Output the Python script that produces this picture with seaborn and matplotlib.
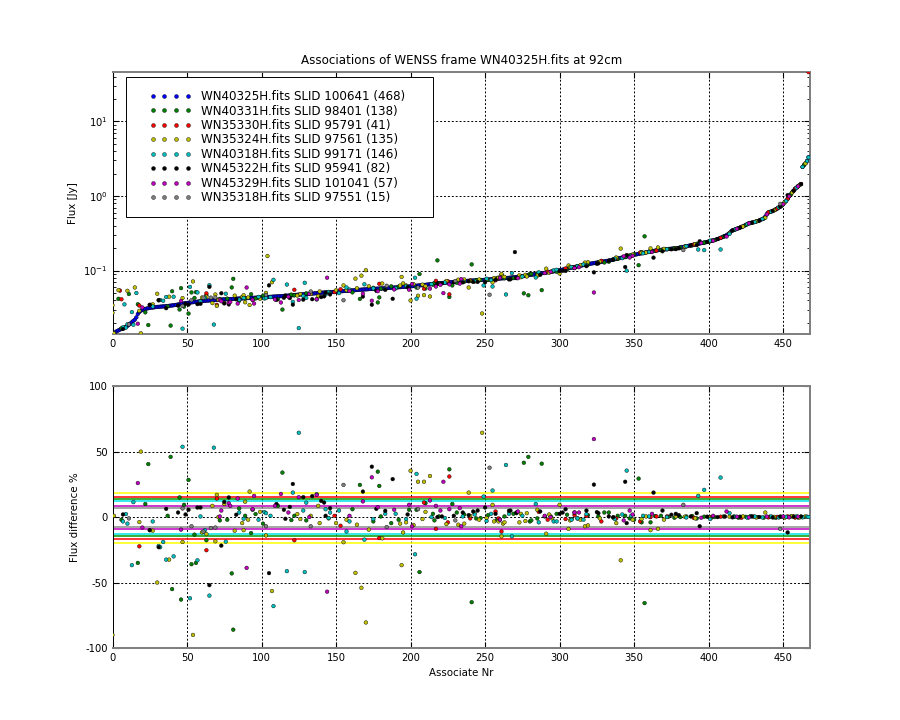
import numpy as np
import pandas as pd
import matplotlib
matplotlib.use("Agg")
import matplotlib.pyplot as plt
from matplotlib.lines import Line2D
from matplotlib.legend_handler import HandlerLine2D
import seaborn as sns

# legend names, one per frame
fields = ["WN40325H.fits SLID 100641 (468)", "WN40331H.fits SLID 98401 (138)",
          "WN35330H.fits SLID 95791 (41)", "WN35324H.fits SLID 97561 (135)",
          "WN40318H.fits SLID 99171 (146)", "WN45322H.fits SLID 95941 (82)",
          "WN45329H.fits SLID 101041 (57)", "WN35318H.fits SLID 97551 (15)"]

# flux of the reference frame, sorted (index = associate nr)
ref_flux = [
    0.0143, 0.0146, 0.0150, 0.0155, 0.0158, 0.0162, 0.0165, 0.0168, 0.0172, 0.0176,
    0.0181, 0.0188, 0.0195, 0.0203, 0.0212, 0.0220, 0.0236, 0.0262, 0.0278, 0.0289,
    0.0297, 0.0302, 0.0306, 0.0310, 0.0313, 0.0316, 0.0318, 0.0320, 0.0322, 0.0324,
    0.0326, 0.0327, 0.0328, 0.0330, 0.0331, 0.0332, 0.0334, 0.0335, 0.0337, 0.0339,
    0.0341, 0.0343, 0.0346, 0.0348, 0.0351, 0.0354, 0.0357, 0.0360, 0.0363, 0.0366,
    0.0368, 0.0371, 0.0373, 0.0375, 0.0377, 0.0379, 0.0381, 0.0383, 0.0385, 0.0387,
    0.0389, 0.0391, 0.0393, 0.0395, 0.0396, 0.0398, 0.0400, 0.0401, 0.0402, 0.0403,
    0.0405, 0.0406, 0.0407, 0.0408, 0.0410, 0.0411, 0.0412, 0.0413, 0.0414, 0.0415,
    0.0416, 0.0417, 0.0418, 0.0420, 0.0421, 0.0422, 0.0423, 0.0424, 0.0425, 0.0426,
    0.0427, 0.0428, 0.0429, 0.0430, 0.0431, 0.0432, 0.0433, 0.0434, 0.0435, 0.0436,
    0.0437, 0.0439, 0.0440, 0.0441, 0.0443, 0.0444, 0.0445, 0.0446, 0.0448, 0.0449,
    0.0450, 0.0452, 0.0453, 0.0454, 0.0455, 0.0457, 0.0458, 0.0460, 0.0462, 0.0464,
    0.0466, 0.0468, 0.0470, 0.0472, 0.0474, 0.0476, 0.0478, 0.0480, 0.0481, 0.0483,
    0.0484, 0.0486, 0.0488, 0.0490, 0.0492, 0.0494, 0.0496, 0.0498, 0.0500, 0.0502,
    0.0504, 0.0506, 0.0508, 0.0510, 0.0511, 0.0513, 0.0514, 0.0516, 0.0518, 0.0519,
    0.0521, 0.0523, 0.0525, 0.0527, 0.0529, 0.0531, 0.0533, 0.0535, 0.0537, 0.0539,
    0.0541, 0.0543, 0.0545, 0.0547, 0.0549, 0.0551, 0.0553, 0.0555, 0.0557, 0.0559,
    0.0561, 0.0562, 0.0564, 0.0566, 0.0567, 0.0569, 0.0570, 0.0572, 0.0573, 0.0574,
    0.0575, 0.0577, 0.0578, 0.0580, 0.0582, 0.0584, 0.0586, 0.0588, 0.0590, 0.0592,
    0.0594, 0.0596, 0.0598, 0.0600, 0.0602, 0.0604, 0.0606, 0.0608, 0.0610, 0.0612,
    0.0615, 0.0618, 0.0621, 0.0624, 0.0627, 0.0630, 0.0633, 0.0636, 0.0639, 0.0642,
    0.0645, 0.0648, 0.0652, 0.0656, 0.0660, 0.0663, 0.0666, 0.0669, 0.0672, 0.0675,
    0.0678, 0.0681, 0.0684, 0.0687, 0.0690, 0.0693, 0.0696, 0.0699, 0.0702, 0.0705,
    0.0708, 0.0711, 0.0714, 0.0717, 0.0719, 0.0721, 0.0724, 0.0726, 0.0728, 0.0730,
    0.0732, 0.0734, 0.0736, 0.0738, 0.0740, 0.0742, 0.0744, 0.0746, 0.0748, 0.0750,
    0.0753, 0.0756, 0.0759, 0.0762, 0.0765, 0.0768, 0.0771, 0.0774, 0.0777, 0.0780,
    0.0783, 0.0786, 0.0789, 0.0792, 0.0795, 0.0798, 0.0801, 0.0804, 0.0808, 0.0812,
    0.0816, 0.0821, 0.0826, 0.0831, 0.0836, 0.0841, 0.0847, 0.0853, 0.0859, 0.0865,
    0.0872, 0.0879, 0.0886, 0.0893, 0.0900, 0.0906, 0.0912, 0.0918, 0.0924, 0.0929,
    0.0935, 0.0942, 0.0949, 0.0956, 0.0963, 0.0970, 0.0977, 0.0984, 0.0992, 0.1000,
    0.1010, 0.1020, 0.1030, 0.1041, 0.1052, 0.1063, 0.1074, 0.1085, 0.1096, 0.1107,
    0.1118, 0.1129, 0.1140, 0.1151, 0.1162, 0.1173, 0.1184, 0.1195, 0.1206, 0.1218,
    0.1230, 0.1240, 0.1250, 0.1260, 0.1270, 0.1280, 0.1290, 0.1300, 0.1310, 0.1320,
    0.1330, 0.1340, 0.1350, 0.1362, 0.1375, 0.1390, 0.1405, 0.1420, 0.1435, 0.1450,
    0.1466, 0.1482, 0.1498, 0.1514, 0.1530, 0.1546, 0.1562, 0.1578, 0.1594, 0.1610,
    0.1626, 0.1642, 0.1658, 0.1674, 0.1690, 0.1706, 0.1722, 0.1738, 0.1754, 0.1770,
    0.1786, 0.1802, 0.1818, 0.1834, 0.1850, 0.1866, 0.1878, 0.1890, 0.1900, 0.1910,
    0.1920, 0.1930, 0.1940, 0.1950, 0.1958, 0.1966, 0.1974, 0.1982, 0.1990, 0.2000,
    0.2020, 0.2040, 0.2060, 0.2080, 0.2100, 0.2120, 0.2140, 0.2160, 0.2180, 0.2200,
    0.2222, 0.2244, 0.2266, 0.2288, 0.2310, 0.2332, 0.2354, 0.2376, 0.2398, 0.2420,
    0.2450, 0.2480, 0.2510, 0.2540, 0.2570, 0.2610, 0.2650, 0.2700, 0.2750, 0.2800,
    0.2860, 0.2920, 0.2990, 0.3080, 0.3200, 0.3350, 0.3450, 0.3520, 0.3580, 0.3640,
    0.3700, 0.3770, 0.3840, 0.3920, 0.4000, 0.4100, 0.4200, 0.4300, 0.4350, 0.4400,
    0.4450, 0.4500, 0.4560, 0.4620, 0.4700, 0.4800, 0.4900, 0.5000, 0.5300, 0.5700,
    0.6000, 0.6120, 0.6200, 0.6300, 0.6450, 0.6600, 0.6800, 0.7000, 0.7200, 0.7450,
    0.7800, 0.8200, 0.8600, 0.9200, 0.9900, 1.0500, 1.1200, 1.1800, 1.2500, 1.3000,
    1.3500, 1.4000, 1.4500, 2.4500, 2.6000, 2.7500, 2.9500, 3.3000,
]

# other frames: associate nr and flux difference % (ref - other) / ref
g_nr = [4, 6, 11, 17, 22, 24, 37, 39, 40, 45, 46, 48, 51, 53, 55, 56, 63, 72, 77, 80,
        81, 85, 89, 93, 94, 96, 101, 111, 114, 120, 122, 130, 161, 166, 175, 178, 179, 180, 187, 192,
        199, 204, 206, 210, 215, 216, 218, 219, 226, 228, 231, 236, 241, 244, 247, 252, 258, 263, 269, 271,
        276, 279, 280, 281, 285, 288, 290, 294, 298, 305, 308, 312, 319, 326, 330, 333, 336, 339, 344, 347,
        350, 353, 355, 357, 361, 364, 368, 373, 377, 381, 385, 389, 392, 397, 402, 404, 410, 417, 420, 425,
        428, 433, 437, 441, 445, 449, 455, 460, 464]
g_diff = [-165, -2, -158, -35, 10, 40.5, 1, 46, -55, 15, -63, 9.4, 28.4, -36, -13.4, -35, -17.7, -2.5, -2, -43,
          -86, 6.6, 1, -12.2, 5.6, 2.3, -5, 8.6, 34, -2.3, 1, -2.5, 6, 24.6, -3.3, 34.7, 23.8, 0.5, -4.6, -2,
          5.6, 5.6, -42, 10.6, 2.5, -2.5, -104, 0.5, 36.5, 10, 3.5, 2, -65, -1, -0.7, 1.5, -2, 0.5, 2.5, 3,
          41.5, 46, -3.3, -2.5, -1, 40.8, 0.5, 0.5, 2.5, 1.8, -1.5, -1, 1.5, 0.5, 3.5, 3.5, -0.5, 1, 1, -1,
          -2, 29.4, -4, -65.7, -4, 0.8, 1, 0.3, -0.5, 0, 0.5, 0.8, -1, 0.3, -0.3, 0, 0.5, 0.5, -0.5, 0.2,
          0.7, 0, -0.4, 0.3, -0.6, 0.2, 0.4, -0.3, 0.1]

r_nr = [5, 6, 18, 25, 63, 70, 122, 149, 153, 179, 209, 217, 225, 226, 240, 257, 259, 261, 286, 292,
        304, 310, 318, 328, 338, 354, 361, 365, 372, 390, 401, 408, 422, 430, 440, 446, 453, 457, 458, 462,
        467]
r_diff = [-233, -150, -22.3, -10, -25.3, 14.2, -17.7, 1, -6.6, -16, 11.1, -9, -4, 31, -1, 4.3, -1, -11, 4, -2,
          -1.5, 1.5, 0.8, -3.3, -1, -3.3, 0, 0.5, 0.5, -0.6, 0, 0.3, -0.5, 0.4, -0.2, 0.2, 0.5, 0.5, -0.4, 0.2,
          -1290]

y_nr = [0, 0, 1, 4, 10, 15, 18, 19, 27, 30, 38, 47, 54, 60, 63, 67, 69, 70, 71, 75,
        82, 87, 88, 89, 91, 92, 99, 103, 104, 107, 124, 126, 133, 138, 139, 145, 150, 155, 157, 163,
        164, 167, 170, 172, 181, 193, 194, 195, 197, 200, 202, 205, 208, 209, 210, 213, 224, 232, 236, 239,
        240, 243, 246, 248, 251, 255, 256, 259, 261, 262, 263, 273, 274, 277, 278, 285, 291, 293, 295, 300,
        306, 307, 314, 317, 319, 327, 338, 341, 349, 355, 358, 361, 366, 370, 378, 384, 391, 400, 414, 423,
        432, 438, 444, 451, 456, 461, 465]
y_diff = [-90, -140, 1, -246, -196, -170, -3.8, 50, -10.4, -50, -32.5, -19, -90, -11.7, -13, 8.6, -18.5, 17, 0, 10,
          -10.4, -4.6, -10, 11.7, -2, 19.5, 4, -14, -254, -56.5, 2.3, -1.5, 1, 8.6, -4.6, -1, -4.6, -19.2, -2, -42.6,
          -5.8, -54, -80.5, -9.6, -16.2, -5, -36.7, -11.7, -4, 35.4, -6, 27, -1.5, 27, 4, 31.4, -5.3, -5.8, -5, 18.7,
          1, 3, -2, 64.4, -0.7, 9.4, -3.3, -3.3, -14.7, -5, -4, -4, 2.5, -3, 3, 5.6, -12.7, 2, -1, 9.4,
          -9, -2.5, -2, -7, -6.3, -1, -4.6, -33, -2, -1.5, 0.5, -10, -9, -2, 0.5, 0.3, -1, 0, 0.3, 0.6,
          -0.3, 3.5, 0.2, -0.5, 0.8, -0.3, 0.5]

c_nr = [7, 8, 9, 10, 13, 14, 16, 27, 31, 32, 34, 36, 41, 47, 52, 57, 59, 62, 65, 68,
        76, 85, 88, 98, 102, 103, 106, 108, 117, 121, 125, 128, 129, 130, 137, 143, 145, 146, 152, 157,
        159, 169, 175, 183, 190, 197, 203, 204, 214, 223, 235, 243, 249, 251, 254, 255, 260, 264, 266, 268,
        275, 284, 286, 296, 298, 308, 312, 316, 318, 337, 342, 345, 348, 356, 360, 372, 385, 393, 397, 401,
        408, 414, 418, 426, 431, 436, 442, 447, 452, 459, 463, 466, 467]
c_diff = [-3.3, -105, 2.3, -5, -36.7, 11.4, -112, -3.3, -22, -23, -19, -32.5, -30, 53.7, -62, -33, 0.5, -10, -60, 53,
          -18.8, 3.5, -1.3, -2, 3.8, 3, 1, -68, -41.3, 18.7, 64.4, 5, -42, 11, 17.5, 6, -0.7, 3.5, 5, -11,
          -3.3, -17.2, -1.5, 2.5, 2.5, -1.5, -28.4, 33, 0, -0.7, 0.5, 2, 15.7, -3, 2.5, 20.3, -2, 39.8, 2.5, -14.7,
          1, 10, -4, -3.3, -3.3, -2, -1, -2, 2.3, -1.5, 2, 35.5, 1, 1, 0.5, 0, -0.3, 16.2, 20.8, -1.5,
          30.2, 3, 0.2, -0.5, 0.4, -0.2, 0.5, -0.3, 0.2, 0.6, -0.2, 0.3, 0.1]

k_nr = [7, 25, 31, 36, 44, 49, 51, 57, 59, 65, 73, 75, 78, 83, 105, 110, 115, 116, 119, 121,
        128, 134, 140, 142, 143, 146, 168, 174, 177, 183, 188, 198, 218, 221, 229, 235, 239, 242, 245, 250,
        257, 266, 267, 270, 271, 287, 300, 302, 304, 310, 318, 323, 325, 326, 333, 336, 344, 345, 363, 369,
        375, 378, 380, 388, 392, 394, 399, 406, 411, 416, 421, 429, 434, 443, 448, 453, 457, 462]
k_diff = [2, -10, -23, 6.3, 3.5, 2, 5.6, 7.3, 7.3, -52, -21.8, 11.6, 15, 1.8, -42.8, 10, 5.6, -1.3, 7.8, 25.3,
          15.2, 16, 12.4, 11.1, 1, 6.8, 19.5, 38.5, 6.3, 4.8, 29, 2, 0, 0.5, 1, 3.5, 1.5, 4.3, 5, 7.3,
          2.5, 4.8, 5, -117, 3.5, 4.3, 2.5, 3.5, 6, 3.5, 5, 24.8, 3.8, 3, 0.5, 0, 27, -4.6, 18.7, 5,
          1.8, 2.5, 1.5, 0.5, 3, -7, 0.3, 0, 0.4, -0.2, 0.3, 0.5, 0.1, -0.3, 0.4, -11.7, 0.2, 0.5]

m_nr = [17, 20, 46, 72, 73, 78, 79, 84, 90, 94, 95, 109, 113, 118, 125, 132, 137, 144, 159, 168,
        174, 178, 189, 199, 201, 213, 217, 220, 222, 226, 233, 234, 260, 272, 290, 294, 310, 313, 323, 343,
        347, 349, 362, 395, 403, 412, 419, 427, 439, 450, 454, 460]
m_diff = [26, -8, -9.6, 0.5, 5, 10.6, 8.6, 14.2, -38.8, 6, 16.2, 8.6, 17.7, 3.5, 15.2, 0, 17, -57, 1, 12,
          30.4, 7.6, 5.6, 9.4, -7, 12.7, 8.6, 5, 27, 6, 6.8, -7, -2, 4.3, 1, 0, 3.5, 3.5, 59.6, -2.5,
          5, 2, 2.5, -0.5, 1, 4.3, 0.3, -0.2, 0.4, 0.5, -0.2, 0.3]

gr_nr = [11, 47, 53, 61, 66, 69, 103, 133, 155, 184, 205, 230, 253, 383, 448]
gr_diff = [-1, 6.6, -7, -11, -8.4, -8, -7, -7, 24.6, -7.6, 6, -2.5, 37.7, 9.4, -9]

# spread lines in the lower panel (upper, lower) per frame
band_upper = [None, 13.9, 15.6, 18.4, 12.6, None, 8.4, 7.1]
band_lower = [None, -14.4, -16.6, -19.6, -13.0, None, -8.9, -7.3]

dot_colors = [(0, 0, 1), (0, 0.5, 0), (1, 0, 0), (0.75, 0.75, 0),
              (0, 0.75, 0.75), (0, 0, 0), (0.75, 0, 0.75), (0.5, 0.5, 0.5)]
line_colors = [None, (0, 0.6, 0), (1, 0, 0), (1, 1, 0),
               (0, 0.9, 0.9), None, (0.75, 0, 0.75), (0.55, 0.55, 0.55)]

plt.rcParams["axes.unicode_minus"] = False
plt.rcParams["font.family"] = ["DejaVu Sans"]

# build long-form tables
ref = np.array(ref_flux)
top = [pd.DataFrame({"nr": np.arange(len(ref)), "flux": ref, "field": fields[0]})]
bottom = []
others = [(g_nr, g_diff), (r_nr, r_diff), (y_nr, y_diff), (c_nr, c_diff),
          (k_nr, k_diff), (m_nr, m_diff), (gr_nr, gr_diff)]
for i, (nr, diff) in enumerate(others, start=1):
    nr = np.array(nr)
    diff = np.array(diff, dtype=float)
    flux = ref[nr] * (1 - diff / 100.0)
    top.append(pd.DataFrame({"nr": nr, "flux": flux, "field": fields[i]}))
    bottom.append(pd.DataFrame({"nr": nr, "diff": diff, "field": fields[i]}))
df_top = pd.concat(top, ignore_index=True)
df_bot = pd.concat(bottom, ignore_index=True)
pal = dict(zip(fields, dot_colors))

fig, (ax1, ax2) = plt.subplots(2, 1, figsize=(9, 7.2), dpi=100)
plt.subplots_adjust(left=0.125, right=0.9, bottom=0.1, top=0.9, hspace=0.2)

sns.scatterplot(data=df_top, x="nr", y="flux", hue="field", palette=pal, s=7,
                edgecolor="k", linewidth=0.3, legend=False, ax=ax1, zorder=3)
ax1.set_yscale("log")
ax1.set_ylim(0.0142, 46)
ax1.set_xlim(0, 468)
ax1.set_xlabel("")
ax1.set_ylabel("Flux [Jy]", fontsize=7.4)
ax1.set_title("Associations of WENSS frame WN40325H.fits at 92cm", fontsize=8.6)

handles = [Line2D([], [], marker="o", ls="", color=c, mec="k", mew=0.3, ms=2.8) for c in dot_colors]
leg = ax1.legend(handles, fields, loc="upper left", mode="expand",
                 bbox_to_anchor=(0.0187, 0.0, 0.4405, 0.981),
                 borderaxespad=0, handlelength=5.3, handletextpad=-0.1,
                 labelspacing=0.12, borderpad=1.1, fontsize=8.6, fancybox=False,
                 edgecolor="k", framealpha=1,
                 handler_map={Line2D: HandlerLine2D(numpoints=4, marker_pad=1.18)})
leg.get_frame().set_linewidth(0.7)

for u, l, lc in zip(band_upper, band_lower, line_colors):
    if u is None:
        continue
    ax2.axhline(u, color=lc, lw=1.1, zorder=2)
    ax2.axhline(l, color=lc, lw=1.1, zorder=2)
sns.scatterplot(data=df_bot, x="nr", y="diff", hue="field", palette=pal, s=7,
                edgecolor="k", linewidth=0.3, legend=False, ax=ax2, zorder=3)
ax2.set_xlim(0, 468)
ax2.set_ylim(-100, 100)
ax2.set_yticks([-100, -50, 0, 50, 100])
ax2.set_xlabel("Associate Nr", fontsize=7.4)
ax2.set_ylabel("Flux difference %", fontsize=7.4)

for ax in (ax1, ax2):
    ax.set_xticks(range(0, 451, 50))
    ax.grid(True, which="major", color="k", linestyle=(0, (2, 2)), linewidth=0.7)
    ax.set_axisbelow(True)
    ax.tick_params(which="both", direction="in", top=True, right=True, labelsize=7.2)
    ax.tick_params(which="major", length=4)
    ax.tick_params(which="minor", length=2)
    for side in ("top", "right", "bottom"):
        ax.spines[side].set_color((0.5, 0.5, 0.5))
        ax.spines[side].set_linewidth(1.44)
    ax.spines["left"].set_color("k")
    ax.spines["left"].set_linewidth(0.72)

fig.savefig("out.png", dpi=100)
